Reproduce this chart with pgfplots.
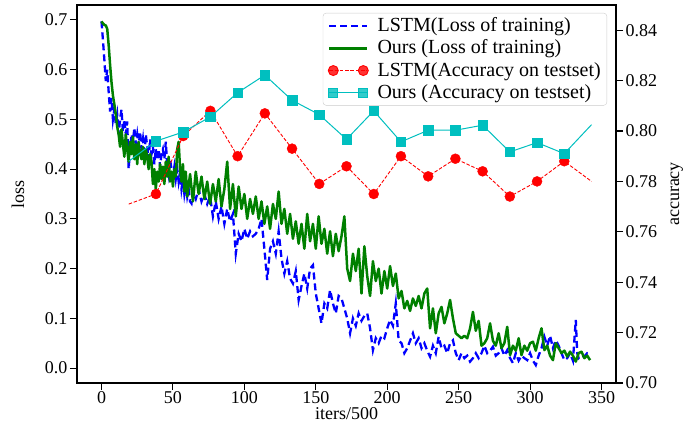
\documentclass[border=0pt]{standalone}
\usepackage{fontspec}
\setmainfont{Liberation Serif}
\usepackage{pgfplots}
\pgfplotsset{compat=1.18}
\definecolor{mblue}{rgb}{0,0,1}
\definecolor{mgreen}{rgb}{0,0.5,0}
\definecolor{mred}{rgb}{1,0,0}
\definecolor{mcyan}{rgb}{0,0.75,0.75}
\pgfplotstableread{
x y
0 0.697
1 0.660
2 0.620
3 0.577
4 0.600
5 0.556
6 0.516
7 0.543
8 0.500
9 0.520
10 0.490
11 0.509
12 0.470
13 0.500
14 0.520
15 0.475
16 0.500
17 0.470
18 0.496
19 0.400
20 0.440
21 0.470
22 0.455
23 0.483
24 0.450
25 0.470
26 0.445
27 0.475
28 0.440
29 0.460
30 0.425
31 0.470
32 0.445
33 0.420
34 0.460
35 0.430
36 0.445
37 0.410
38 0.440
39 0.420
40 0.440
41 0.405
42 0.430
43 0.440
44 0.420
45 0.455
46 0.410
47 0.390
48 0.420
49 0.400
50 0.385
51 0.405
52 0.380
53 0.400
54 0.375
55 0.395
56 0.360
57 0.380
58 0.350
59 0.370
60 0.345
61 0.360
62 0.335
63 0.331
64 0.355
66 0.340
68 0.360
70 0.335
72 0.350
74 0.330
76 0.345
78 0.305
80 0.335
82 0.300
84 0.325
86 0.290
88 0.320
90 0.295
92 0.310
94 0.230
96 0.270
98 0.255
100 0.280
102 0.260
104 0.275
106 0.265
108 0.270
110 0.280
112 0.300
114 0.240
116 0.177
118 0.240
120 0.255
122 0.230
124 0.275
126 0.220
128 0.190
130 0.215
132 0.180
134 0.170
136 0.195
138 0.137
140 0.165
142 0.190
144 0.160
146 0.200
148 0.207
150 0.150
152 0.120
154 0.090
156 0.130
158 0.120
160 0.157
162 0.130
164 0.110
166 0.145
168 0.140
170 0.120
172 0.100
174 0.070
176 0.100
178 0.085
180 0.110
182 0.095
184 0.105
186 0.110
188 0.080
190 0.036
192 0.060
194 0.050
196 0.065
198 0.060
200 0.080
202 0.097
204 0.085
206 0.130
208 0.056
210 0.050
212 0.030
214 0.040
216 0.055
218 0.070
220 0.050
222 0.060
224 0.040
226 0.050
228 0.035
230 0.023
232 0.045
234 0.030
236 0.063
238 0.040
240 0.045
242 0.030
244 0.050
246 0.056
248 0.030
250 0.016
252 0.030
254 0.020
256 0.025
258 0.013
260 0.020
262 0.030
264 0.020
266 0.030
268 0.045
270 0.030
272 0.035
274 0.043
276 0.025
278 0.030
280 0.040
282 0.025
284 0.036
286 0.020
288 0.010
290 0.030
292 0.015
294 0.025
296 0.020
298 0.016
300 0.030
302 0.015
304 0.006
306 0.025
308 0.040
310 0.063
312 0.045
314 0.065
316 0.040
318 0.056
320 0.045
322 0.030
324 0.016
326 0.020
328 0.030
330 0.015
332 0.097
333 0.030
334 0.020
336 0.025
338 0.023
340 0.030
342 0.028
}\lstmloss
\pgfplotstableread{
x y
0 0.697
1 0.693
2 0.690
3 0.689
4 0.682
5 0.650
6 0.610
7 0.575
8 0.548
9 0.530
10 0.510
11 0.485
12 0.470
13 0.445
14 0.480
15 0.450
16 0.425
17 0.470
18 0.440
19 0.415
20 0.455
21 0.430
22 0.465
23 0.420
24 0.450
25 0.410
26 0.455
27 0.430
28 0.420
29 0.445
30 0.410
31 0.440
32 0.425
33 0.400
34 0.430
35 0.415
36 0.370
37 0.400
38 0.360
39 0.395
40 0.375
41 0.410
42 0.380
43 0.405
44 0.370
45 0.415
46 0.385
47 0.425
48 0.375
49 0.395
50 0.365
51 0.400
52 0.385
53 0.440
54 0.455
55 0.400
56 0.375
57 0.410
58 0.355
59 0.395
60 0.345
62 0.390
64 0.335
66 0.395
68 0.350
70 0.385
72 0.340
74 0.375
76 0.330
78 0.370
80 0.335
82 0.380
84 0.325
86 0.360
88 0.415
90 0.320
92 0.370
94 0.305
96 0.365
98 0.320
100 0.350
102 0.300
104 0.340
106 0.310
108 0.345
110 0.300
112 0.335
114 0.290
116 0.325
118 0.280
120 0.330
122 0.300
124 0.355
126 0.290
128 0.320
130 0.270
132 0.310
134 0.260
136 0.295
138 0.250
140 0.290
142 0.240
144 0.310
146 0.255
148 0.290
150 0.240
152 0.305
154 0.250
156 0.280
158 0.230
160 0.275
162 0.225
164 0.270
166 0.235
168 0.265
170 0.305
172 0.200
174 0.175
176 0.230
178 0.195
180 0.240
182 0.150
184 0.245
186 0.185
188 0.145
190 0.215
192 0.175
194 0.200
196 0.150
198 0.195
200 0.160
202 0.205
204 0.165
206 0.190
208 0.140
210 0.155
212 0.120
214 0.135
216 0.115
218 0.140
220 0.125
222 0.145
224 0.120
226 0.150
228 0.160
230 0.080
232 0.120
234 0.070
236 0.110
238 0.123
240 0.090
242 0.110
244 0.137
246 0.100
248 0.070
250 0.065
252 0.060
254 0.065
256 0.060
258 0.080
260 0.113
262 0.075
264 0.095
266 0.045
268 0.050
270 0.060
272 0.090
274 0.055
276 0.045
278 0.070
280 0.040
282 0.050
284 0.083
286 0.026
288 0.045
290 0.035
292 0.060
294 0.026
296 0.045
298 0.035
300 0.050
302 0.053
304 0.035
306 0.060
308 0.080
310 0.036
312 0.045
314 0.025
316 0.016
318 0.050
320 0.040
322 0.030
324 0.035
326 0.023
328 0.033
330 0.025
332 0.013
334 0.030
336 0.033
338 0.020
340 0.025
342 0.016
}\oursloss
\pgfplotstableread{
x y
19.06 0.771
38.11 0.775
57.17 0.798
76.22 0.808
95.28 0.790
114.33 0.807
133.39 0.793
152.44 0.779
171.50 0.786
190.56 0.775
209.61 0.790
228.67 0.782
247.72 0.789
266.78 0.784
285.83 0.774
304.89 0.780
323.94 0.788
343.00 0.780
}\lstmacc
\pgfplotstableread{
x y
19.06 0.788
38.11 0.796
57.17 0.7996
76.22 0.8056
95.28 0.8152
114.33 0.8222
133.39 0.8122
152.44 0.8065
171.50 0.7967
190.56 0.808
209.61 0.7957
228.67 0.8003
247.72 0.8003
266.78 0.8023
285.83 0.7917
304.89 0.7954
323.94 0.791
343.00 0.8025
}\oursacc
\begin{document}
\fontsize{18}{21.6}\selectfont
\begin{tikzpicture}
\useasboundingbox (-77pt,-48pt) rectangle (621pt,383pt);
\pgfplotsset{
 common/.style={
  at={(0pt,0pt)}, anchor=south west, scale only axis, width=539pt, height=378pt,
  xmin=-17.15, xmax=360.15,
  axis line style={line width=1.1pt, black},
  tick style={line width=1.1pt, black},
  major tick length=7pt, tick align=outside,
  tick label style={inner sep=2.5pt},
  /pgf/number format/assume math mode=true,
  legend image code/.code={\draw[##1, mark=none] (0pt,0pt) -- (38pt,0pt);
    \path[##1, draw=none] plot coordinates {(4pt,0pt) (34pt,0pt)};},
 }
}
\begin{axis}[common, ymin=-0.03, ymax=0.73,
  xtick={0,50,100,150,200,250,300,350},
  ytick={0,0.1,0.2,0.3,0.4,0.5,0.6,0.7},
  xtick pos=bottom, ytick pos=left,
  xticklabel style={inner sep=1.5pt},
  yticklabel style={/pgf/number format/.cd, fixed, fixed zerofill, precision=1},
  xlabel={iters/500}, ylabel={loss},
  xlabel style={at={(axis description cs:0.5,-0.081)}, anchor=center},
  ylabel style={at={(axis description cs:-0.1095,0.5)}, anchor=center}]
\addplot[mblue, line width=2.3pt, dash pattern=on 7pt off 4pt] table {\lstmloss};
\addplot[mgreen, line width=2.5pt, line join=round] table {\oursloss};
\end{axis}
\begin{axis}[common, ymin=0.70, ymax=0.85,
  axis y line*=right, axis x line=none,
  ytick={0.70,0.72,0.74,0.76,0.78,0.80,0.82,0.84},
  yticklabel style={/pgf/number format/.cd, fixed, fixed zerofill, precision=2},
  ylabel={accuracy},
  ylabel style={at={(axis description cs:1.113,0.5)}, anchor=center},
  legend cell align=left,
  legend style={at={(1,1)}, anchor=north east, xshift=-9pt, yshift=-8pt,
    draw=black!20, rounded corners=3pt, fill=white, fill opacity=0.8, text opacity=1,
    inner xsep=5pt, inner ysep=1.5pt,
    nodes={inner ysep=2.8pt, inner xsep=1pt}, row sep=0pt,
    /tikz/every odd column/.append style={column sep=8pt},
    font=\fontsize{20}{24}\selectfont}]
\addlegendimage{mblue, line width=2.3pt, dash pattern=on 7pt off 4pt}
\addlegendentry{LSTM(Loss of training)}
\addlegendimage{mgreen, line width=2.5pt}
\addlegendentry{Ours (Loss of training)}
\addlegendimage{mred, line width=0.9pt, dash pattern=on 3.5pt off 1.8pt, mark=*, mark size=5pt, mark options={solid, fill=mred}}
\addlegendentry{LSTM(Accuracy on testset)}
\addlegendimage{mcyan, line width=1pt, mark=square*, mark size=4.7pt, mark options={solid, fill=mcyan}}
\addlegendentry{Ours (Accuracy on testset)}
\addplot[mred, line width=0.9pt, dash pattern=on 3.5pt off 1.8pt, forget plot] table {\lstmacc};
\addplot[mred, only marks, mark=*, mark size=5pt, forget plot, skip coords between index={0}{1}, skip coords between index={17}{18}] table {\lstmacc};
\addplot[mcyan, line width=1pt, forget plot] table {\oursacc};
\addplot[mcyan, only marks, mark=square*, mark size=4.7pt, forget plot, skip coords between index={0}{1}, skip coords between index={17}{18}] table {\oursacc};
\end{axis}
\end{tikzpicture}
\end{document}
